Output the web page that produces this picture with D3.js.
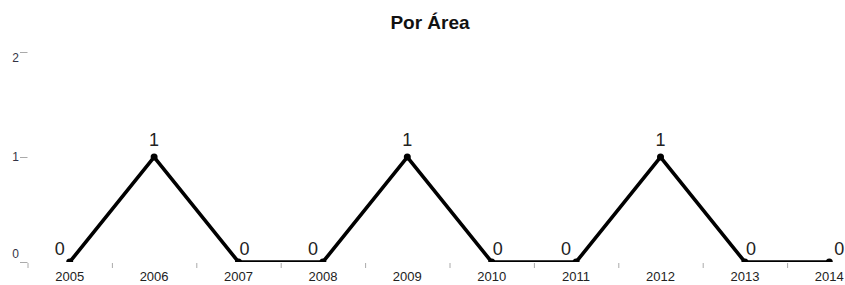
<!DOCTYPE html>
<html>
<head>
<meta charset="utf-8">
<script src="https://cdn.jsdelivr.net/npm/d3@7"></script>
<style>
  body { margin: 0; background: #fff; }
  svg { display: block; font-family: Arial, "Liberation Sans", sans-serif; }
</style>
</head>
<body>
<div class="chart-box"></div>
<script>
let width = 845;
let height = 285;

let years = ["2005", "2006", "2007", "2008", "2009", "2010", "2011", "2012", "2013", "2014"];
let values = [0, 1, 0, 0, 1, 0, 0, 1, 0, 0];
let yTicks = [0, 1, 2];
let title = "Por Área";

let svg = d3.select(".chart-box")
  .append("svg")
  .attr("width", width)
  .attr("height", height)
  .style("overflow", "hidden");

svg.append("text")
  .attr("x", 430)
  .attr("y", 29)
  .attr("text-anchor", "middle")
  .style("font-size", "19px")
  .style("font-weight", "bold")
  .style("fill", "#111")
  .text(title);

// band scale that runs off the right edge, like the original
let x = d3.scaleBand()
  .domain(years)
  .range([27.5, 27.5 + 84.4 * years.length])
  .padding(0);

let y = d3.scaleLinear()
  .domain([0, 2])
  .range([262, 52]);

let cx = d => x(d) + x.bandwidth() / 2;

// plot area clip: the zero line sits on the bottom edge and gets cut in half
svg.append("defs")
  .append("clipPath")
  .attr("id", "plot-clip")
  .append("rect")
  .attr("x", 0).attr("y", 0)
  .attr("width", width).attr("height", y(0));

// y axis: short ticks, labels kept inside the plot
let yAxis = svg.append("g").attr("class", "y-axis");
yAxis.selectAll("line")
  .data(yTicks)
  .enter()
  .append("line")
  .attr("x1", 20).attr("x2", 27.5)
  .attr("y1", d => y(d) + 0.5).attr("y2", d => y(d) + 0.5)
  .style("stroke", "#aaa")
  .style("stroke-width", 1);
yAxis.selectAll("text")
  .data(yTicks)
  .enter()
  .append("text")
  .attr("x", 19)
  .attr("y", d => Math.min(Math.max(y(d), 58), 254))
  .attr("dy", "0.35em")
  .attr("text-anchor", "end")
  .style("font-size", "12px")
  .style("fill", "#334")
  .text(d => d);

// x axis: ticks at band edges, labels centred on band
let xAxis = svg.append("g").attr("class", "x-axis");
xAxis.selectAll("line")
  .data(years)
  .enter()
  .append("line")
  .attr("x1", d => x(d) + 0.5).attr("x2", d => x(d) + 0.5)
  .attr("y1", 263).attr("y2", 268)
  .style("stroke", "#aaa")
  .style("stroke-width", 1);
xAxis.selectAll("text")
  .data(years)
  .enter()
  .append("text")
  .attr("x", d => cx(d))
  .attr("y", 281)
  .attr("text-anchor", "middle")
  .style("font-size", "13px")
  .style("fill", "#222")
  .text(d => d);

let points = years.map((yr, i) => ({ year: yr, value: values[i], i: i }));

let line = d3.line()
  .x(d => cx(d.year))
  .y(d => y(d.value));

let plot = svg.append("g").attr("clip-path", "url(#plot-clip)");

plot.append("path")
  .datum(points)
  .attr("d", line)
  .style("fill", "none")
  .style("stroke", "#000")
  .style("stroke-width", 3.6)
  .style("stroke-linejoin", "miter");

plot.selectAll(".dot")
  .data(points)
  .enter()
  .append("circle")
  .attr("class", "dot")
  .attr("cx", d => cx(d.year))
  .attr("cy", d => y(d.value))
  .attr("r", 3.5)
  .style("fill", "#000");

// value labels, nudged away from the line
let labelShift = d => {
  let next = values[d.i + 1], prev = values[d.i - 1];
  if (next !== undefined && next > d.value) return -10;
  if (prev !== undefined && prev > d.value) return 6;
  if (d.value > 0) return 0;
  return 10;
};

svg.selectAll(".val")
  .data(points)
  .enter()
  .append("text")
  .attr("class", "val")
  .attr("x", d => cx(d.year) + labelShift(d))
  .attr("y", d => y(d.value) - (d.value > 0 ? 11 : 7))
  .attr("text-anchor", "middle")
  .style("font-size", "18px")
  .style("fill", "#222")
  .text(d => d.value);
</script>
</body>
</html>
